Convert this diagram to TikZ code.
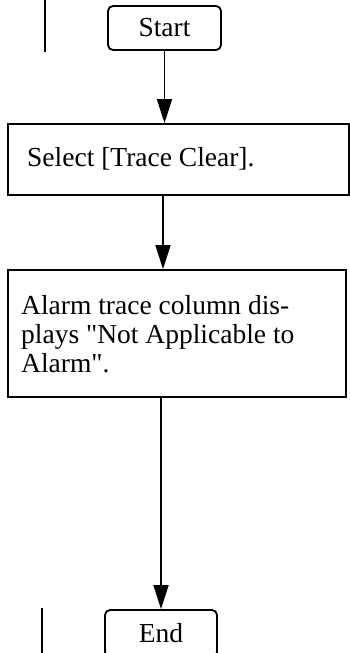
\documentclass[tikz,border=0pt]{standalone}
\usepackage{fontspec}
\setmainfont{Liberation Serif}[Ligatures=TeXOff]
\usetikzlibrary{arrows.meta}
\begin{document}
\begin{tikzpicture}[x=1pt,y=1pt,
  box/.style={draw,line width=1.8pt,inner sep=0pt},
  term/.style={box,rounded corners=5pt,font=\fontsize{27.5}{29}\selectfont},
  txt/.style={inner sep=0pt,align=left,anchor=west,font=\fontsize{27.5}{29}\selectfont},
  conn/.style={line width=1.7pt,-{Triangle[length=24pt,width=15pt]}},
  bar/.style={line width=1.5pt}]
\useasboundingbox (0,0) rectangle (350,-653);
% change bars
\draw[bar] (45,0) -- (45,-52);
\draw[bar] (42,-608) -- (42,-653);
% nodes
\node[term,minimum width=113pt,minimum height=44pt] (start) at (164.5,-28) {Start};
\node[box,minimum width=341pt,minimum height=71pt] (select) at (178.5,-159.5) {};
\node[txt] (selectt) at (27,-159) {Select [Trace Clear].};
\node[box,minimum width=338pt,minimum height=127pt] (alarm) at (177,-333.5) {};
\node[txt] (alarmt) at (21,-334) {Alarm trace column dis-\\plays "Not Applicable to\\Alarm".};
\node[term,minimum width=112pt,minimum height=47pt] (end) at (161,-633.5) {\raisebox{1.5pt}{End}};
% connectors
\draw[conn] (start.south) -- (start.south |- select.north);
\draw[conn] ([xshift=-1.5pt]start.south |- select.south) -- ([xshift=-1.5pt]start.south |- alarm.north);
\draw[conn] (end.north |- alarm.south) -- (end.north);
\end{tikzpicture}
\end{document}
